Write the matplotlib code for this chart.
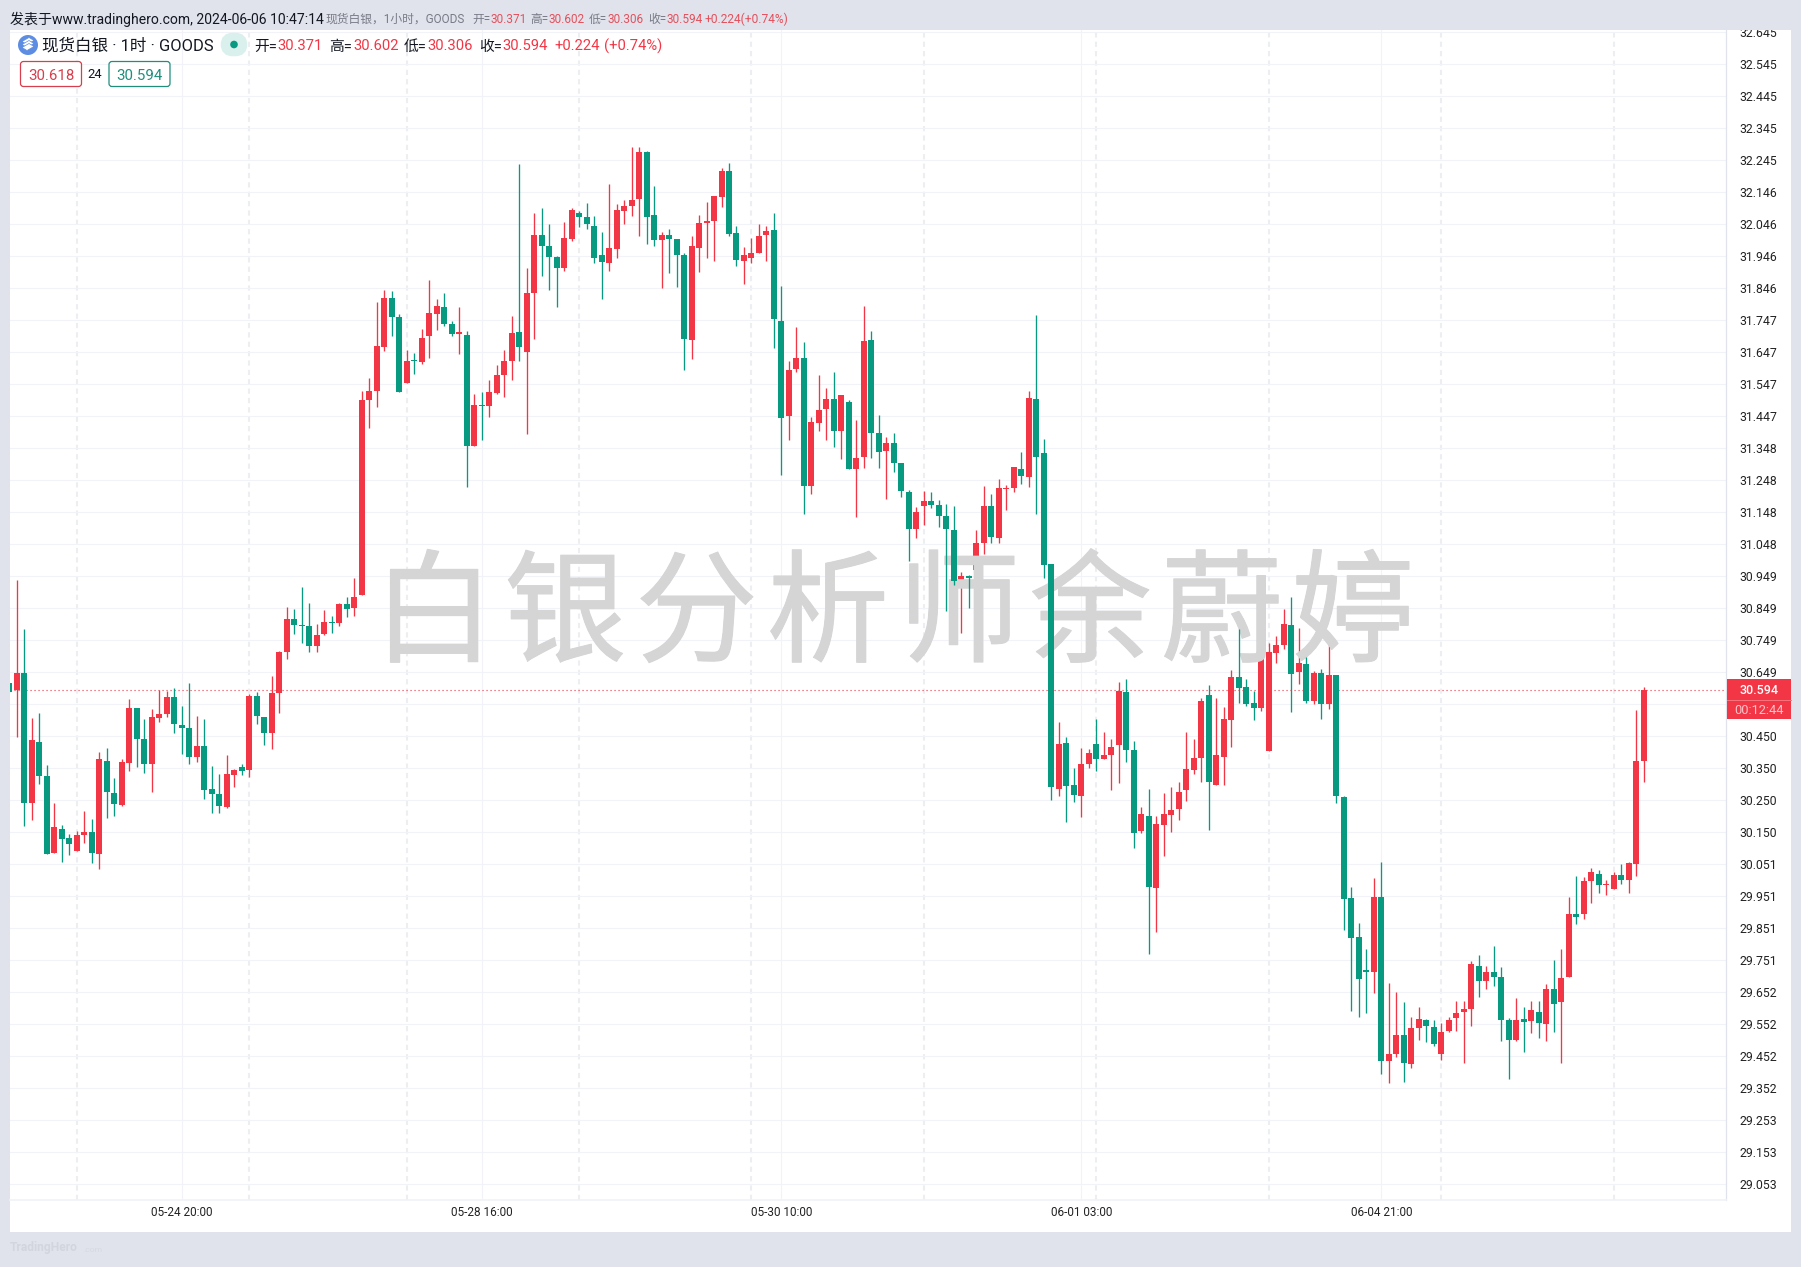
import numpy as np
import matplotlib
matplotlib.use('Agg')
import matplotlib.pyplot as plt
import matplotlib.patheffects as pe
from matplotlib.patches import Rectangle, FancyBboxPatch, Circle, Polygon

W, H = 1801, 1267
RED = '#f23645'
TEAL = '#089981'
BG = '#e0e3eb'
FONT = ['Roboto', 'Noto Sans CJK SC', 'DejaVu Sans']
plt.rcParams['font.family'] = FONT

opens = [
    30.615, 30.595, 30.647, 30.242, 30.432, 30.326, 30.086, 30.160, 30.132, 30.093,
    30.142, 30.151, 30.083, 30.372, 30.273, 30.235, 30.367, 30.538, 30.441, 30.364,
    30.507, 30.520, 30.572, 30.485, 30.475, 30.386, 30.419, 30.285, 30.269, 30.229,
    30.330, 30.354, 30.345, 30.575, 30.509, 30.458, 30.585, 30.713, 30.815, 30.796,
    30.793, 30.731, 30.768, 30.806, 30.803, 30.862, 30.849, 30.891, 31.498, 31.526,
    31.664, 31.816, 31.757, 31.552, 31.623, 31.617, 31.696, 31.767, 31.788, 31.735,
    31.705, 31.701, 31.353, 31.483, 31.479, 31.520, 31.576, 31.620, 31.710, 31.648,
    31.832, 32.013, 31.978, 31.944, 31.910, 32.000, 32.081, 32.069, 32.041, 31.950,
    31.925, 31.969, 32.087, 32.103, 32.125, 32.271, 32.075, 31.997, 32.013, 32.000,
    31.950, 31.685, 31.972, 32.050, 32.056, 32.131, 32.212, 32.019, 31.932, 31.941,
    31.956, 32.013, 32.028, 31.744, 31.448, 31.594, 31.628, 31.229, 31.426, 31.469,
    31.501, 31.401, 31.491, 31.282, 31.320, 31.684, 31.395, 31.338, 31.363, 31.301,
    31.211, 31.095, 31.167, 31.182, 31.170, 31.136, 31.092, 30.933, 30.949, 30.967,
    31.052, 31.167, 31.067, 31.220, 31.223, 31.282, 31.257, 31.501, 31.332, 30.986,
    30.285, 30.428, 30.297, 30.263, 30.363, 30.425, 30.378, 30.391, 30.422, 30.587,
    30.406, 30.154, 30.201, 29.976, 30.173, 30.204, 30.223, 30.282, 30.344, 30.382,
    30.578, 30.297, 30.385, 30.500, 30.634, 30.603, 30.553, 30.537, 30.403, 30.709,
    30.734, 30.796, 30.650, 30.675, 30.559, 30.647, 30.550, 30.640, 30.260, 29.945,
    29.823, 29.721, 29.714, 29.948, 29.437, 29.459, 29.518, 29.428, 29.540, 29.565,
    29.543, 29.459, 29.530, 29.571, 29.590, 29.599, 29.733, 29.686, 29.714, 29.699,
    29.565, 29.502, 29.568, 29.562, 29.590, 29.552, 29.661, 29.621, 29.699, 29.895,
    29.895, 29.998, 30.020, 29.986, 29.973, 30.017, 30.001, 30.051, 30.371]
highs = [
    30.615, 30.937, 30.784, 30.506, 30.522, 30.360, 30.241, 30.173, 30.145, 30.154,
    30.216, 30.191, 30.400, 30.413, 30.319, 30.379, 30.566, 30.538, 30.503, 30.534,
    30.594, 30.591, 30.600, 30.544, 30.615, 30.513, 30.503, 30.357, 30.332, 30.391,
    30.347, 30.363, 30.581, 30.587, 30.509, 30.637, 30.715, 30.852, 30.846, 30.915,
    30.865, 30.799, 30.843, 30.824, 30.865, 30.884, 30.943, 31.526, 31.567, 31.804,
    31.841, 31.838, 31.766, 31.654, 31.645, 31.720, 31.872, 31.813, 31.832, 31.744,
    31.788, 31.713, 31.517, 31.523, 31.560, 31.607, 31.654, 31.760, 32.234, 31.910,
    32.081, 32.097, 32.047, 31.947, 32.053, 32.097, 32.087, 32.112, 32.072, 32.022,
    32.172, 32.109, 32.122, 32.287, 32.287, 32.275, 32.165, 32.022, 32.031, 32.000,
    31.956, 32.010, 32.075, 32.116, 32.134, 32.222, 32.237, 32.041, 31.975, 32.003,
    32.047, 32.041, 32.081, 31.853, 31.619, 31.725, 31.678, 31.444, 31.575, 31.535,
    31.585, 31.513, 31.497, 31.435, 31.790, 31.713, 31.451, 31.382, 31.395, 31.301,
    31.217, 31.164, 31.214, 31.211, 31.186, 31.173, 31.167, 30.961, 30.952, 31.092,
    31.229, 31.204, 31.251, 31.232, 31.289, 31.335, 31.526, 31.762, 31.376, 30.986,
    30.494, 30.447, 30.350, 30.413, 30.410, 30.503, 30.463, 30.441, 30.619, 30.628,
    30.435, 30.229, 30.285, 30.201, 30.272, 30.291, 30.307, 30.463, 30.441, 30.569,
    30.609, 30.569, 30.541, 30.656, 30.784, 30.628, 30.590, 30.721, 30.740, 30.762,
    30.846, 30.884, 30.787, 30.696, 30.653, 30.659, 30.746, 30.640, 30.263, 29.979,
    29.867, 29.786, 30.007, 30.057, 29.680, 29.652, 29.621, 29.574, 29.605, 29.568,
    29.565, 29.555, 29.574, 29.624, 29.624, 29.749, 29.767, 29.733, 29.795, 29.730,
    29.571, 29.633, 29.605, 29.624, 29.624, 29.677, 29.752, 29.786, 29.948, 30.014,
    30.011, 30.039, 30.032, 30.001, 30.026, 30.051, 30.057, 30.531, 30.602]
lows = [
    30.588, 30.448, 30.171, 30.189, 30.302, 30.083, 30.086, 30.058, 30.080, 30.093,
    30.117, 30.055, 30.037, 30.196, 30.202, 30.232, 30.342, 30.352, 30.336, 30.277,
    30.494, 30.510, 30.458, 30.395, 30.364, 30.370, 30.255, 30.211, 30.211, 30.227,
    30.292, 30.330, 30.323, 30.489, 30.422, 30.410, 30.522, 30.690, 30.768, 30.740,
    30.712, 30.712, 30.765, 30.771, 30.793, 30.821, 30.824, 30.891, 31.412, 31.477,
    31.652, 31.696, 31.524, 31.552, 31.580, 31.611, 31.630, 31.716, 31.730, 31.696,
    31.640, 31.228, 31.353, 31.373, 31.446, 31.517, 31.508, 31.560, 31.620, 31.392,
    31.688, 31.885, 31.841, 31.788, 31.900, 31.994, 32.038, 32.031, 31.925, 31.813,
    31.900, 31.941, 32.047, 32.072, 32.010, 31.985, 31.978, 31.847, 31.894, 31.850,
    31.592, 31.626, 31.897, 31.941, 31.932, 32.100, 32.010, 31.916, 31.860, 31.925,
    31.956, 31.932, 31.660, 31.264, 31.373, 31.585, 31.142, 31.204, 31.401, 31.373,
    31.351, 31.313, 31.282, 31.133, 31.285, 31.317, 31.285, 31.189, 31.273, 31.195,
    30.995, 31.067, 31.108, 31.161, 31.101, 30.840, 30.921, 30.771, 30.849, 30.952,
    31.017, 31.052, 31.052, 31.154, 31.211, 31.235, 31.226, 31.142, 30.942, 30.251,
    30.263, 30.182, 30.244, 30.198, 30.350, 30.341, 30.378, 30.282, 30.304, 30.369,
    30.101, 30.148, 29.770, 29.839, 30.076, 30.151, 30.188, 30.247, 30.332, 30.307,
    30.157, 30.297, 30.297, 30.416, 30.553, 30.544, 30.500, 30.528, 30.403, 30.678,
    30.721, 30.525, 30.612, 30.553, 30.550, 30.503, 30.534, 30.241, 29.845, 29.593,
    29.574, 29.587, 29.649, 29.396, 29.368, 29.449, 29.371, 29.415, 29.502, 29.496,
    29.484, 29.440, 29.527, 29.530, 29.431, 29.546, 29.636, 29.661, 29.671, 29.499,
    29.381, 29.499, 29.465, 29.524, 29.509, 29.499, 29.527, 29.431, 29.699, 29.864,
    29.880, 29.930, 29.961, 29.955, 29.973, 29.989, 29.961, 30.014, 30.306]
closes = [
    30.588, 30.647, 30.242, 30.438, 30.327, 30.083, 30.167, 30.129, 30.114, 30.142,
    30.151, 30.086, 30.379, 30.277, 30.239, 30.369, 30.538, 30.442, 30.364, 30.509,
    30.519, 30.572, 30.489, 30.476, 30.386, 30.419, 30.283, 30.270, 30.233, 30.332,
    30.344, 30.342, 30.575, 30.514, 30.458, 30.584, 30.712, 30.815, 30.797, 30.793,
    30.731, 30.765, 30.806, 30.803, 30.862, 30.846, 30.884, 31.498, 31.526, 31.667,
    31.816, 31.758, 31.524, 31.620, 31.618, 31.691, 31.769, 31.791, 31.735, 31.704,
    31.708, 31.353, 31.483, 31.479, 31.523, 31.576, 31.620, 31.707, 31.663, 31.832,
    32.013, 31.978, 31.944, 31.910, 32.003, 32.091, 32.069, 32.047, 31.941, 31.928,
    31.972, 32.091, 32.103, 32.122, 32.271, 32.069, 31.997, 32.013, 32.000, 31.950,
    31.688, 31.978, 32.050, 32.056, 32.134, 32.212, 32.016, 31.935, 31.950, 31.956,
    32.010, 32.025, 31.751, 31.441, 31.591, 31.628, 31.229, 31.429, 31.466, 31.501,
    31.401, 31.513, 31.282, 31.317, 31.681, 31.395, 31.335, 31.363, 31.301, 31.214,
    31.095, 31.148, 31.182, 31.170, 31.136, 31.095, 30.933, 30.949, 30.943, 31.052,
    31.167, 31.070, 31.223, 31.223, 31.289, 31.260, 31.504, 31.320, 30.983, 30.292,
    30.425, 30.294, 30.266, 30.363, 30.397, 30.378, 30.391, 30.416, 30.591, 30.406,
    30.148, 30.207, 29.979, 30.176, 30.207, 30.219, 30.276, 30.347, 30.382, 30.559,
    30.307, 30.391, 30.503, 30.634, 30.600, 30.550, 30.537, 30.718, 30.712, 30.734,
    30.799, 30.643, 30.678, 30.559, 30.647, 30.550, 30.640, 30.263, 29.942, 29.820,
    29.693, 29.714, 29.948, 29.437, 29.459, 29.518, 29.431, 29.540, 29.568, 29.546,
    29.490, 29.527, 29.565, 29.587, 29.599, 29.739, 29.686, 29.714, 29.699, 29.565,
    29.502, 29.565, 29.558, 29.596, 29.555, 29.661, 29.615, 29.696, 29.895, 29.886,
    29.998, 30.026, 29.986, 29.989, 30.017, 30.001, 30.054, 30.372, 30.594]

price_ticks = [32.645, 32.545, 32.445, 32.345, 32.245, 32.146, 32.046, 31.946, 31.846,
               31.747, 31.647, 31.547, 31.447, 31.348, 31.248, 31.148, 31.048, 30.949,
               30.849, 30.749, 30.649, 30.550, 30.450, 30.350, 30.250, 30.150, 30.051,
               29.951, 29.851, 29.751, 29.652, 29.552, 29.452, 29.352, 29.253, 29.153,
               29.053]
time_ticks = [23, 63, 103, 143, 183]
time_labels = ['05-24 20:00', '05-28 16:00', '05-30 10:00', '06-01 03:00', '06-04 21:00']
day_lines = [9, 32, 53, 76, 99, 122, 145, 168, 191, 214]
last_price = 30.594
watermark = '白银分析师余蔚婷'

fig = plt.figure(figsize=(W / 100, H / 100), dpi=100, facecolor=BG)
fig.add_artist(Rectangle((10 / W, 1 - 1232 / H), 1781 / W, 1202 / H, transform=fig.transFigure,
                         fc='white', ec='none', zorder=-1))

# chart axes, 10..1726 px wide and 30..1200 px down
ax = fig.add_axes([10 / W, 1 - 1200 / H, 1716 / W, 1170 / H], zorder=1)
ax.patch.set_alpha(0)
ax.set_xlim(0.107, 228.97)
ax.set_ylim(29.0034, 32.6515)

# overlay in plain pixels for the header and labels
ov = fig.add_axes([0, 0, 1, 1], zorder=5)
ov.set_xlim(0, W)
ov.set_ylim(H, 0)
ov.axis('off')

o = np.array(opens)
h = np.array(highs)
l = np.array(lows)
c = np.array(closes)
x = np.arange(len(o))
up = c >= o
body_h = np.maximum(np.abs(c - o), 0.004)
body_b = np.minimum(o, c)

ax.vlines(x[up], l[up], h[up], color=RED, lw=0.95, zorder=2)
ax.bar(x[up], body_h[up], bottom=body_b[up], width=0.8, color=RED, lw=0, zorder=2)
ax.vlines(x[~up], l[~up], h[~up], color=TEAL, lw=0.95, zorder=4)
ax.bar(x[~up], body_h[~up], bottom=body_b[~up], width=0.8, color=TEAL, lw=0, zorder=4)

ax.set_yticks(price_ticks)
# the 30.550 label sits under the price tag in the reference
ax.set_yticklabels(['' if p == 30.550 else '%.3f' % p for p in price_ticks])
ax.set_xticks(time_ticks)
ax.set_xticklabels(time_labels)
ax.yaxis.tick_right()
ax.tick_params(axis='y', length=0, pad=9.5, labelsize=8.8, labelcolor='#222222')
ax.tick_params(axis='x', length=0, pad=4.5, labelsize=8.5, labelcolor='#222222')
ax.grid(True, color='#f1f3f8', lw=0.8, zorder=0)
ax.set_axisbelow(True)
for d in day_lines:
    ax.axvline(d, color='#eceef2', lw=1.5, ls=(0, (2.5, 2)), zorder=0.5)
ax.axhline(last_price, color=RED, lw=0.8, ls=(0, (1, 2.6)), zorder=3.5)
for s in ['top', 'left']:
    ax.spines[s].set_visible(False)
ax.spines['right'].set_color(BG)
ax.spines['right'].set_linewidth(0.9)
ax.spines['bottom'].set_color('#f0f2f6')
ax.spines['bottom'].set_linewidth(1.2)

# watermark sits over red candles and under the teal ones
for i, ch in enumerate(watermark):
    ax.text(434 + 131.3 * i, 618, ch, transform=ov.transData, fontsize=88, color='#d5d5d5',
            ha='center', va='center', family=['Noto Sans CJK SC'], zorder=3,
            path_effects=[pe.withStroke(linewidth=0.8, foreground='#d5d5d5')])


def put(px, py, s, size, color='#131722', ha='left', **kw):
    ov.text(px, py, s, fontsize=size * 0.72, color=color, ha=ha, va='center', **kw)


# top band
ov.add_patch(Rectangle((0, 0), W, 30, fc=BG, ec='none', zorder=0))
put(10, 19, '发表于www.tradinghero.com, 2024-06-06 10:47:14', 14)
GREY = '#787b86'
PINK = '#e4505c'
put(326, 19.5, '现货白银，1小时，GOODS', 11.8, GREY)
for px, lab, val in [(472, '开=', '30.371'), (530, '高=', '30.602'),
                     (589, '低=', '30.306'), (648, '收=', '30.594')]:
    put(px, 19.5, lab, 11.8, GREY)
    put(px + 18, 19.5, val, 11.8, PINK)
put(705, 19.5, '+0.224(+0.74%)', 12, PINK)

# legend row
ov.add_patch(Circle((28, 45), 10, fc='#5d8de2', ec='none'))
for dy in [-3, 0, 3]:
    ov.add_patch(Polygon([(22, 44.5 + dy), (29, 40.5 + dy), (34, 43.5 + dy), (27, 47.5 + dy)],
                         fc='white', ec='#5d8de2', lw=0.5))
put(42, 46, '现货白银 · 1时 · GOODS', 16.5)
ov.add_patch(FancyBboxPatch((227, 39), 14, 11, boxstyle='round,pad=0,rounding_size=5.5',
                            mutation_aspect=1, fc='#daf0ec', ec='#daf0ec', lw=9))
ov.add_patch(Circle((234, 44.5), 3.8, fc=TEAL, ec='none'))
for px, lab, vx, val in [(254, '开=', 277.5, '30.371'), (329, '高=', 353, '30.602'),
                         (404, '低=', 427.5, '30.306'), (479, '收=', 502.5, '30.594')]:
    put(px, 46.5, lab, 14.8)
    put(vx, 46.5, val, 14.8, RED)
put(554.5, 46.5, '+0.224', 14.8, RED)
put(604, 46.5, '(+0.74%)', 14.8, RED)

# bid and ask boxes
for bx, col, val in [(20.5, '#d6404e', '30.618'), (109, '#1f8f7c', '30.594')]:
    ov.add_patch(FancyBboxPatch((bx, 61.5), 61, 25, boxstyle='round,pad=0,rounding_size=3',
                                fc='white', ec=col, lw=0.9))
    put(bx + 30.5, 75.5, val, 15, col, ha='center')
put(95, 75, '24', 13, ha='center')

# price tag on the scale
ov.add_patch(Rectangle((1727, 679), 64, 40, fc=RED, ec='none'))
ov.plot([1727, 1791], [699.5, 699.5], color='#f8737d', lw=0.7)
put(1759, 690.5, '30.594', 12.5, 'white', ha='center', weight='medium')
put(1759, 710.5, '00:12:44', 12.8, '#ffc2c7', ha='center')

# footer
put(10, 1248, 'TradingHero', 12, '#d2d5de', weight='bold')
put(83, 1249.5, '.com', 8.5, '#d6d9e1')

fig.savefig('out.png', dpi=100, facecolor=BG)
